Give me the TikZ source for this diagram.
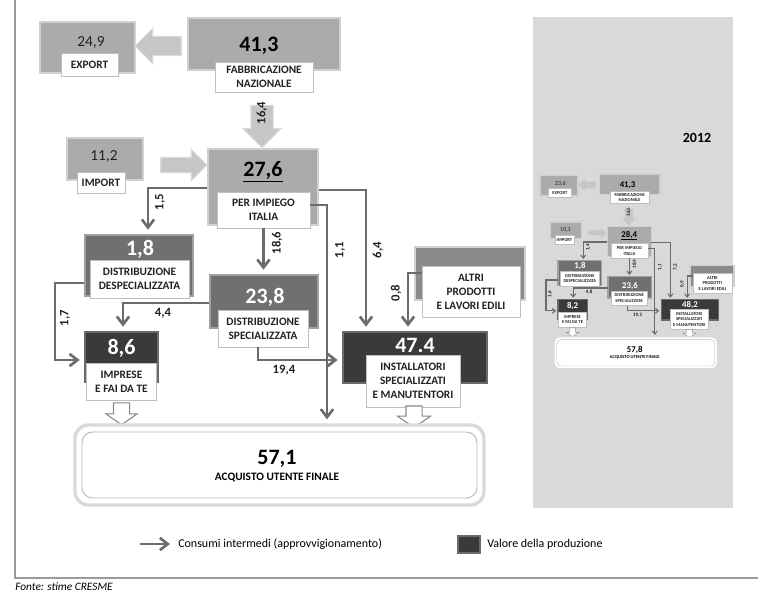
\documentclass[tikz,border=0pt]{standalone}
\usepackage{fontspec}
\setmainfont{Carlito}
\usetikzlibrary{arrows.meta,shapes.arrows}
\definecolor{gLight}{HTML}{ABABAB}
\definecolor{gLightE}{HTML}{D0D0D0}
\definecolor{gMid}{HTML}{707070}
\definecolor{gMidE}{HTML}{A0A0A0}
\definecolor{gDark}{HTML}{3A3A3A}
\definecolor{gDarkE}{HTML}{6A6A6A}
\definecolor{gAlt}{HTML}{8A8A8A}
\definecolor{gArr}{HTML}{C6C6C6}
\definecolor{gArrE}{HTML}{DADADA}
\definecolor{gConn}{HTML}{6B6B6B}
\definecolor{gPanel}{HTML}{D9D9D9}
\definecolor{gTxt}{HTML}{222222}
\definecolor{gFrame}{HTML}{9A9A9A}
\newcommand\fsz[2]{\fontsize{#1}{#2}\selectfont}
\def\sc{1}
\tikzset{
  sz/.style 2 args={minimum width=#1*0.75pt, minimum height=#2*0.75pt},
  blk/.style={rectangle, inner sep=0pt, line width=\sc*2pt},
  lightblk/.style={blk, fill=gLight, draw=gLightE},
  midblk/.style={blk, fill=gMid, draw=gMidE},
  darkblk/.style={blk, fill=gDark, draw=gDarkE},
  altblk/.style={blk, fill=gAlt, draw=gLightE},
  lbl/.style={rectangle, fill=white, draw=gray!50, line width=\sc*0.6pt, inner sep=0pt, align=center, font=\bfseries\fsz{8.5}{10.5}, text=gTxt},
  bignum/.style={font=\bfseries\fsz{16.5}{18}, inner sep=0pt, text=black},
  whnum/.style={bignum, text=white},
  grnum/.style={font=\fsz{11.5}{13}, inner sep=0pt, text=gTxt},
  conn/.style={draw=gConn, line width=\sc*2pt, -{Straight Barb[length=0pt 3, width=0pt 4.6]}, shorten >=\sc*3pt},
  clab/.style={font=\bfseries\fsz{9.5}{11}, text=gTxt, inner sep=0pt},
  barr/.style n args={3}{single arrow, inner sep=#2*0.375pt, single arrow head indent=0pt, minimum height=#1*0.75pt, minimum width=#3*0.75pt, single arrow head extend=(#3-#2)*0.375pt},
  bigarr/.style={fill=gArr, draw=gArrE, line width=\sc*0.8pt},
  hollowarr/.style={fill=white, draw=gConn!80, line width=\sc*0.8pt, single arrow tip angle=110},
  legtxt/.style={font=\fsz{9}{11}, inner sep=0pt, anchor=west, text=black},
}
\newcommand\flowdiag{%
  \node[lightblk, sz={95}{51}] (expB) at (87.5,47.5) {};
  \node[grnum] (expN) at (91,43) {\vExp};
  \node[lbl, sz={57}{23}] (expL) at (89.5,64.5) {EXPORT};
  \node[lightblk, sz={152}{52}] (fabB) at (264,44) {};
  \node[bignum] (fabN) at (259,46) {\vFab};
  \node[lbl, sz={98}{30}] (fabL) at (264,77) {FABBRICAZIONE\\NAZIONALE};
  \node[barr={46}{18}{34}, bigarr, shape border rotate=180] (fexA) at (163,46) {};
  \node[barr={42}{21}{37}, bigarr, shape border rotate=270] (fpiA) at (262,121) {};
  \node[clab, rotate=90] (fpiT) at (262,113) {\vArr};
  \node[lightblk, sz={76}{42}] (impB) at (105,159) {};
  \node[grnum] (impN) at (104,157) {\vImp};
  \node[lbl, sz={48}{21}] (impL) at (101,182.5) {IMPORT};
  \node[barr={46}{14}{30}, bigarr] (ipiA) at (180,165) {};
  \node[lightblk, sz={110}{76}] (piB) at (263,187) {};
  \node[bignum] (piN) at (263,172) {\underline{\vPi}};
  \node[lbl, sz={93}{36}] (piL) at (263.5,210) {PER IMPIEGO\\ITALIA};
  \node[midblk, sz={108}{61}] (ddB) at (139,265.5) {};
  \node[whnum] (ddN) at (140,249) {\vDd};
  \node[lbl, sz={99}{38}] (ddL) at (139.5,279) {DISTRIBUZIONE\\DESPECIALIZZATA};
  \node[midblk, sz={108}{53}] (dsB) at (264,301.5) {};
  \node[whnum] (dsN) at (265,297) {\vDs};
  \node[lbl, sz={90}{37}] (dsL) at (263,328.5) {DISTRIBUZIONE\\SPECIALIZZATA};
  \node[darkblk, sz={73}{50}] (imB) at (121.5,357) {};
  \node[whnum] (imN) at (121.5,348) {\vIm};
  \node[lbl, sz={70}{37}] (imL) at (121.5,381.5) {IMPRESE\\E FAI DA TE};
  \node[darkblk, sz={144}{51}] (inB) at (415,357.5) {};
  \node[whnum] (inN) at (415,345) {\vIn};
  \node[lbl, sz={94}{52}] (inL) at (413,381) {INSTALLATORI\\SPECIALIZZATI\\E MANUTENTORI};
  \node[altblk, sz={110}{53}] (alB) at (470,273.5) {};
  \node[lbl, sz={98}{51}] (alL) at (471,291.5) {ALTRI\\PRODOTTI\\E LAVORI EDILI};
  \node[barr={22}{15}{30}, hollowarr, shape border rotate=270] (imA) at (121.5,411) {};
  \node[barr={15}{15}{32}, hollowarr, shape border rotate=270] (inA) at (414,414) {};
  \node[rectangle, rounded corners=\sc*10pt, fill=white, draw=gray!30, line width=\sc*2.5pt, sz={409}{80}] (acO) at (279.5,465) {};
  \node[rectangle, rounded corners=\sc*8pt, draw=gray!55, line width=\sc*0.7pt, sz={395}{66}] (acI) at (279.5,465) {};
  \node[bignum] (acN) at (277,459) {\vAc};
  \node[font=\bfseries\fsz{8.5}{10}, inner sep=0pt, text=black] (acT) at (277,477) {ACQUISTO UTENTE FINALE};
  % connectors
  \coordinate (k1) at (148,188);
  \draw[conn] (piB.west |- k1) -- (k1) -- (k1 |- ddB.north);
  \node[clab, rotate=90] (l1) at (160,202) {\cA};
  \draw[conn] (piL.south) -- (piL.south |- dsB.north);
  \node[clab, rotate=90] (l2) at (277,243) {\cB};
  \coordinate (k4) at (327,205);
  \draw[conn] (piL.east |- k4) -- (k4) -- (k4 |- acO.north);
  \node[clab, rotate=90] (l4) at (340,250) {\cC};
  \coordinate (k3) at (366,190);
  \draw[conn] (piB.east |- k3) -- (k3) -- (k3 |- inB.north);
  \node[clab, rotate=90] (l3) at (378,250) {\cD};
  \coordinate (k5) at (408,273);
  \draw[conn] (alL.west |- k5) -- (k5) -- (k5 |- inB.north);
  \node[clab, rotate=90] (l5) at (396,293) {\cE};
  \coordinate (k6) at (123,303);
  \draw[conn] (dsB.west |- k6) -- (k6) -- (k6 |- imB.north);
  \node[clab] (l6) at (163,313) {\cF};
  \coordinate (k7a) at (55,283);
  \coordinate (k7b) at (55,360);
  \draw[conn] (ddB.west |- k7a) -- (k7a) -- (k7b) -- (k7b -| imB.west);
  \node[clab, rotate=90] (l7) at (65,318) {\cG};
  \coordinate (k8) at (258,360);
  \draw[conn] (k8 |- dsL.south) -- (k8) -- (k8 -| inB.west);
  \node[clab] (l8) at (284,370) {\cH};
}
\begin{document}
\begin{tikzpicture}[x=0.75pt, y=-0.75pt]
  \useasboundingbox (0,0) rectangle (764,600);
  % frame
  \coordinate (fr1) at (15,0);
  \coordinate (fr2) at (15,578);
  \coordinate (fr3) at (758,578);
  \draw[gFrame, line width=1pt] (fr1) -- (fr2) -- (fr3);
  % main diagram (2013)
  \begin{scope}
    \def\vExp{24,9}\def\vFab{41,3}\def\vArr{16,4}\def\vImp{11,2}\def\vPi{27,6}
    \def\vDd{1,8}\def\vDs{23,8}\def\vIm{8,6}\def\vIn{47.4}\def\vAc{57,1}
    \def\cA{1,5}\def\cB{18,6}\def\cC{1,1}\def\cD{6,4}\def\cE{0,8}\def\cF{4,4}\def\cG{1,7}\def\cH{19,4}
    \flowdiag
  \end{scope}
  % inset panel (2012)
  \fill[gPanel] (533,17) rectangle (733,508);
  \node[font=\bfseries\fsz{10.5}{12}, inner sep=0pt] (yr) at (697,138) {2012};
  \begin{scope}[shift={(524,166.8)}, scale=0.4, transform shape, name prefix=i-]
    \def\sc{0.4}
    \def\vExp{23,6}\def\vFab{41,3}\def\vArr{16,5}\def\vImp{10,1}\def\vPi{28,4}
    \def\vDd{1,8}\def\vDs{23,6}\def\vIm{8,2}\def\vIn{48,2}\def\vAc{57,8}
    \def\cA{1,4}\def\cB{18,9}\def\cC{1,1}\def\cD{7,2}\def\cE{0,9}\def\cF{4,8}\def\cG{1,6}\def\cH{19,1}
    \flowdiag
  \end{scope}
  % legend
  \coordinate (lgS) at (140,544);
  \coordinate (lgE) at (170,544);
  \draw[conn, shorten >=0pt] (lgS) -- (lgE);
  \node[legtxt] (lgT1) at (178,544) {Consumi intermedi (approvvigionamento)};
  \node[darkblk, sz={22}{17}] (lgSw) at (469,544.5) {};
  \node[legtxt] (lgT2) at (487,544) {Valore della produzione};
  \node[legtxt, font=\itshape\fsz{8.5}{10}] (src) at (15,587) {Fonte: stime CRESME};
\end{tikzpicture}
\end{document}
